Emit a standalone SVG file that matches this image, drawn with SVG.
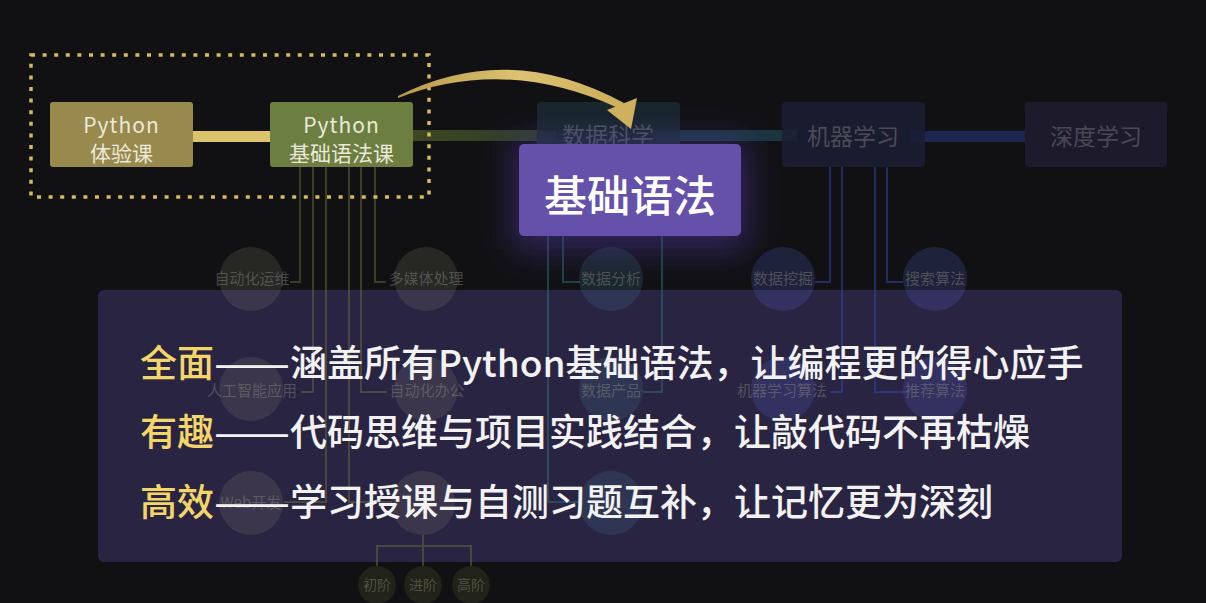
<svg xmlns="http://www.w3.org/2000/svg" width="1206" height="603" viewBox="0 0 1206 603">
  <defs>
    <style>
      .cjk { font-family: "Noto Sans CJK SC", "Noto Sans", sans-serif; }
      .nodeTxt { font-family: "Noto Sans CJK SC", "Noto Sans", sans-serif; font-size: 21px; fill: #ebe9dc; text-anchor: middle; }
      .dimTxt { font-family: "Noto Sans CJK SC", sans-serif; font-size: 23px; text-anchor: middle; }
      .lbl { font-family: "Noto Sans CJK SC", sans-serif; font-size: 15px; fill: #8c8c84; fill-opacity: 0.45; text-anchor: middle; }
      .lblS { font-family: "Noto Sans CJK SC", sans-serif; font-size: 14px; fill: #8c8c70; fill-opacity: 0.45; text-anchor: middle; }
      .lnO { fill: none; stroke: rgb(120,125,60); stroke-opacity: 0.4; stroke-width: 2; }
      .lnT { fill: none; stroke: rgb(50,120,130); stroke-opacity: 0.45; stroke-width: 2; }
      .lnB { fill: none; stroke: rgb(50,70,180); stroke-opacity: 0.5; stroke-width: 2; }
      .cO { fill: rgb(150,150,120); fill-opacity: 0.17; }
      .cT { fill: rgb(70,130,150); fill-opacity: 0.2; }
      .cB { fill: rgb(80,95,200); fill-opacity: 0.22; }
      .cS { fill: rgb(100,110,50); fill-opacity: 0.2; }
      .big { font-family: "Noto Sans CJK SC", sans-serif; font-size: 37px; font-weight: 500; fill: #f2f2f2; }
      .hl { fill: #f3d66a; }
    </style>
    <filter id="glow" x="-50%" y="-50%" width="200%" height="200%">
      <feGaussianBlur stdDeviation="16"/>
    </filter>
    <linearGradient id="arrowGrad" x1="398" y1="0" x2="640" y2="0" gradientUnits="userSpaceOnUse">
      <stop offset="0" stop-color="#b89a48"/>
      <stop offset="0.5" stop-color="#dcc271"/>
      <stop offset="1" stop-color="#c9aa58"/>
    </linearGradient>
    <linearGradient id="barGrad" x1="413" y1="0" x2="556" y2="0" gradientUnits="userSpaceOnUse">
      <stop offset="0" stop-color="#3e4622"/>
      <stop offset="1" stop-color="#2c3b2c"/>
    </linearGradient>
  </defs>

  <rect x="0" y="0" width="1206" height="603" fill="#111114"/>

  <!-- description panel (background layer) -->
  <rect id="panel" x="98" y="290" width="1024" height="272" rx="6" fill="#2a2443"/>

  <!-- connectors -->
  <g id="connectors">
    <rect x="193" y="131" width="78" height="11" fill="#dcc46c"/>
    <rect x="413" y="130" width="143" height="11" fill="url(#barGrad)"/>
    <rect x="653" y="130" width="144" height="11" fill="#1d3a42" fill-opacity="0.9"/>
    <rect x="911" y="131" width="128" height="11" fill="#1f2858" fill-opacity="0.9"/>

    <path class="lnO" d="M300 167 V282 H290"/>
    <path class="lnO" d="M375 167 V282 H386"/>
    <path class="lnO" d="M313 167 V392 H301"/>
    <path class="lnO" d="M361 167 V392 H387"/>
    <path class="lnO" d="M326 167 V502 H284"/>
    <path class="lnO" d="M349 167 V502 H392"/>
    <path class="lnO" d="M423 535 V546 M377 566 V546 H471 V566 M423 546 V566"/>

    <path class="lnT" d="M563 167 V282 H580"/>
    <path class="lnT" d="M662 167 V392 H643"/>
    <path class="lnT" d="M548 167 V502 H580"/>

    <path class="lnB" d="M830 167 V282 H815"/>
    <path class="lnB" d="M887 167 V282 H903"/>
    <path class="lnB" d="M842 167 V392 H830"/>
    <path class="lnB" d="M875 167 V392 H905"/>
  </g>

  <!-- topic circles -->
  <g id="c-zdhyw"><circle class="cO" cx="251" cy="279" r="32"/><text class="lbl" x="252" y="284">自动化运维</text></g>
  <g id="c-dmtcl"><circle class="cO" cx="426" cy="279" r="32"/><text class="lbl" x="426" y="284">多媒体处理</text></g>
  <g id="c-sjfx"><circle class="cT" cx="611" cy="279" r="32"/><text class="lbl" x="611" y="284">数据分析</text></g>
  <g id="c-sjwj"><circle class="cB" cx="783" cy="279" r="32"/><text class="lbl" x="783" y="284">数据挖掘</text></g>
  <g id="c-sssf"><circle class="cB" cx="935" cy="279" r="32"/><text class="lbl" x="935" y="284">搜索算法</text></g>

  <g id="c-rgznyy"><circle class="cO" cx="251" cy="389" r="32"/><text class="lbl" x="252" y="396">人工智能应用</text></g>
  <g id="c-zdhbg"><circle class="cO" cx="426" cy="389" r="32"/><text class="lbl" x="427" y="396">自动化办公</text></g>
  <g id="c-sjcp"><circle class="cT" cx="611" cy="389" r="32"/><text class="lbl" x="611" y="396">数据产品</text></g>
  <g id="c-jqxxsf"><circle class="cB" cx="783" cy="389" r="32"/><text class="lbl" x="782" y="396">机器学习算法</text></g>
  <g id="c-tjsf"><circle class="cB" cx="935" cy="389" r="32"/><text class="lbl" x="935" y="396">推荐算法</text></g>

  <g id="c-web"><circle class="cO" cx="251" cy="503" r="32"/><text class="lbl" x="251" y="508">Web开发</text></g>
  <g id="c-col2r3"><circle class="cO" cx="423" cy="503" r="32"/></g>
  <g id="c-col3r3"><circle class="cT" cx="611" cy="503" r="32"/></g>

  <g id="c-cj"><circle class="cS" cx="377" cy="585" r="19"/><text class="lblS" x="377" y="590">初阶</text></g>
  <g id="c-jj"><circle class="cS" cx="423" cy="585" r="19"/><text class="lblS" x="423" y="590">进阶</text></g>
  <g id="c-gj"><circle class="cS" cx="471" cy="585" r="19"/><text class="lblS" x="471" y="590">高阶</text></g>

  <!-- main course nodes -->
  <g id="n-tiyan">
    <rect x="50" y="102" width="143" height="65" rx="3" fill="#978a4c"/>
    <text class="nodeTxt" x="121.5" y="133" letter-spacing="1">Python</text>
    <text class="nodeTxt" x="121.5" y="161">体验课</text>
  </g>
  <g id="n-jichu">
    <rect x="270" y="102" width="143" height="65" rx="3" fill="#6d7f40"/>
    <text class="nodeTxt" x="341.5" y="133" letter-spacing="1">Python</text>
    <text class="nodeTxt" x="341.5" y="161">基础语法课</text>
  </g>
  <g id="n-sjkx">
    <rect x="537" y="102" width="143" height="65" rx="4" fill="#1a2a31" fill-opacity="0.85"/>
    <text class="dimTxt" x="608" y="144" fill="#4b555b">数据科学</text>
  </g>
  <g id="n-jqxx">
    <rect x="782" y="102" width="143" height="65" rx="4" fill="#1a1f33" fill-opacity="0.85"/>
    <text class="dimTxt" x="853" y="145" fill="#4b4b57">机器学习</text>
  </g>
  <g id="n-sdxx">
    <rect x="1025" y="102" width="142" height="65" rx="4" fill="#1d1b2b"/>
    <text class="dimTxt" x="1096" y="145" fill="#4a4852">深度学习</text>
  </g>

  <!-- highlighted node -->
  <g id="n-focus">
    <rect x="512" y="140" width="236" height="110" rx="8" fill="#4e36a0" fill-opacity="0.5" filter="url(#glow)"/>
    <rect x="519" y="144" width="222" height="92" rx="5" fill="#6651aa"/>
    <text class="cjk" x="630" y="212" font-size="43" font-weight="500" fill="#ffffff" text-anchor="middle">基础语法</text>
  </g>

  <!-- dotted group box -->
  <rect id="group-box" x="31" y="55" width="398" height="142" fill="none" stroke="#d6ba5a" stroke-width="3.5" stroke-dasharray="4 7.6"/>

  <!-- curved arrow -->
  <g id="arrow">
    <path d="M398 96 Q508 40 624 103 L618 108 Q505 56 398 98 Z" fill="url(#arrowGrad)"/>
    <polygon points="631,129 607,110 637,98" fill="#cfb05c"/>
  </g>

  <!-- panel text -->
  <g id="panel-text">
    <text class="big" y="377"><tspan class="hl" x="140">全面</tspan><tspan x="214" textLength="76" lengthAdjust="spacingAndGlyphs">——</tspan><tspan x="290">涵盖所有Python基础语法，让编程更的得心应手</tspan></text>
    <text class="big" y="446"><tspan class="hl" x="140">有趣</tspan><tspan x="214" textLength="76" lengthAdjust="spacingAndGlyphs">——</tspan><tspan x="290">代码思维与项目实践结合，让敲代码不再枯燥</tspan></text>
    <text class="big" y="516"><tspan class="hl" x="140">高效</tspan><tspan x="214" textLength="76" lengthAdjust="spacingAndGlyphs">——</tspan><tspan x="290">学习授课与自测习题互补，让记忆更为深刻</tspan></text>
  </g>
</svg>
